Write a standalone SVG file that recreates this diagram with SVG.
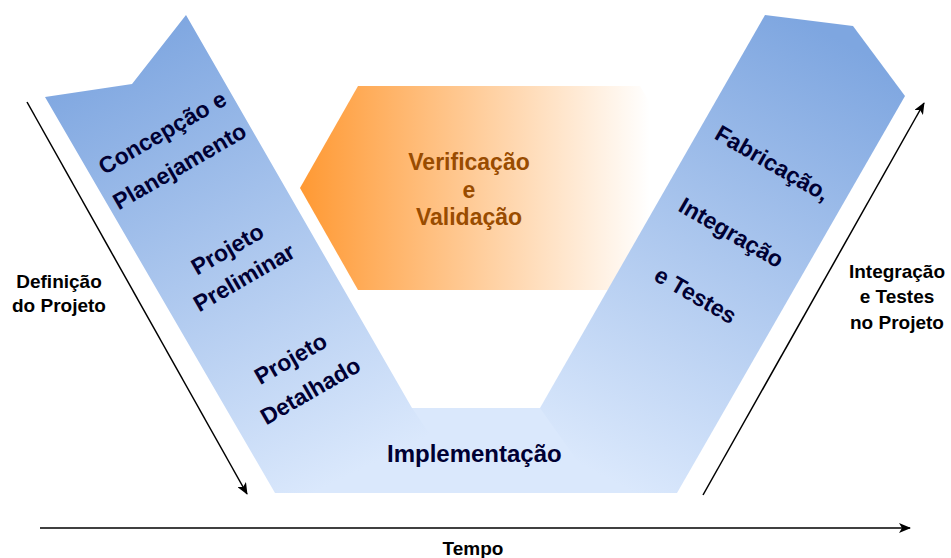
<svg xmlns="http://www.w3.org/2000/svg" width="951" height="558" viewBox="0 0 951 558">
<style>
.lbl{font-family:"Liberation Sans",Arial,sans-serif;font-weight:bold;font-size:19px;fill:#000;text-anchor:middle}
.arm{font-family:"Liberation Sans",Arial,sans-serif;font-weight:bold;font-size:23px;fill:#000033;text-anchor:middle}
.vv{font-family:"Liberation Sans",Arial,sans-serif;font-weight:bold;font-size:23px;fill:#994C00;text-anchor:middle}
.con{stroke:#000;stroke-width:1.5;fill:none}
</style>
<defs>
<linearGradient id="gL" gradientUnits="userSpaceOnUse" x1="120" y1="40" x2="340" y2="480">
<stop offset="0" stop-color="#7EA6E0"/><stop offset="1" stop-color="#DAE8FC"/></linearGradient>
<linearGradient id="gR" gradientUnits="userSpaceOnUse" x1="840" y1="40" x2="610" y2="480">
<stop offset="0" stop-color="#7EA6E0"/><stop offset="1" stop-color="#DAE8FC"/></linearGradient>
<linearGradient id="gO" gradientUnits="userSpaceOnUse" x1="300" y1="0" x2="650" y2="0">
<stop offset="0" stop-color="#FF9933"/><stop offset="1" stop-color="#FFFFFF"/></linearGradient>
<marker id="ah" viewBox="0 0 12 10" refX="11" refY="5" markerWidth="12" markerHeight="10" markerUnits="userSpaceOnUse" orient="auto">
<path d="M0,0 L12,5 L0,10 L3,5 z" fill="#000"/></marker>
</defs>

<g id="verificacao">
<polygon points="300,188 358,86 640,86 700,188 640,290 358,290" fill="url(#gO)"/>
<text class="vv" x="469" y="170">Verificação</text>
<text class="vv" x="469" y="197.5">e</text>
<text class="vv" x="469" y="225">Validação</text>
</g>

<g id="implementacao">
<polygon points="400,408 560,408 640,493 330,493" fill="#DAE8FC"/>
</g>

<g id="esquerda">
<polygon points="186,15 132,84 45,97 275,493 470,493 412,408" fill="url(#gL)"/>
<g transform="translate(162.8,133.3) rotate(-30)"><text class="arm" y="7">Concepção e</text></g>
<g transform="translate(180,167) rotate(-30)"><text class="arm" y="7">Planejamento</text></g>
<g transform="translate(227.8,250) rotate(-30)"><text class="arm" y="7">Projeto</text></g>
<g transform="translate(244.5,278.3) rotate(-30)"><text class="arm" y="7">Preliminar</text></g>
<g transform="translate(291,359.5) rotate(-30)"><text class="arm" y="7">Projeto</text></g>
<g transform="translate(310.8,391.7) rotate(-30)"><text class="arm" y="7">Detalhado</text></g>
</g>

<g id="direita">
<polygon points="765,15 853,26 905,96 677,493 600,493 540,408" fill="url(#gR)"/>
<g transform="translate(772,164) rotate(30)"><text class="arm" y="7">Fabricação,</text></g>
<g transform="translate(730.8,233.3) rotate(30)"><text class="arm" y="7">Integração</text></g>
<g transform="translate(695,296) rotate(30)"><text class="arm" y="7">e Testes</text></g>
</g>

<g id="implementacao-label">
<text class="arm" x="387" y="462" style="text-anchor:start;font-size:24px">Implementação</text>
</g>

<g id="conectores">
<line class="con" x1="27" y1="102" x2="247" y2="494" marker-end="url(#ah)"/>
<line class="con" x1="703" y1="495" x2="924" y2="103" marker-end="url(#ah)"/>
<line class="con" x1="40" y1="528" x2="910" y2="528" marker-end="url(#ah)"/>
</g>

<g id="rotulos">
<text class="lbl" x="59" y="288">Definição</text>
<text class="lbl" x="59" y="312">do Projeto</text>
<text class="lbl" x="897" y="278">Integração</text>
<text class="lbl" x="897" y="303">e Testes</text>
<text class="lbl" x="897" y="329">no Projeto</text>
<text class="lbl" x="473" y="555">Tempo</text>
</g>
</svg>
